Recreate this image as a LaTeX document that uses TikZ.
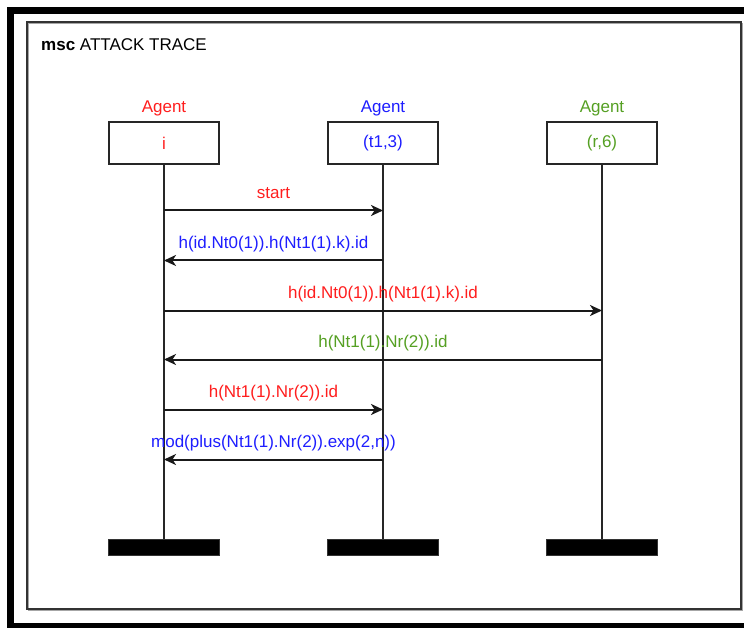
\documentclass[tikz,border=0pt]{standalone}
\usepackage{fontspec}
\setmainfont{Liberation Sans}
\usetikzlibrary{arrows.meta}
\definecolor{mred}{RGB}{255,30,30}
\definecolor{mblue}{RGB}{30,30,255}
\definecolor{mgreen}{RGB}{85,160,35}
\tikzset{
  txt/.style={font=\fontsize{17}{20}\selectfont, inner sep=0pt},
  actorbox/.style={draw=black!85, line width=2pt, minimum width=110pt, minimum height=42pt, inner sep=0pt, font=\fontsize{17}{20}\selectfont},
  endbar/.style={fill=black, draw=black!80, line width=0.6pt, minimum width=111pt, minimum height=16pt, inner sep=0pt},
  lifeline/.style={draw=black!85, line width=2pt},
  msg/.style={draw=black!90, line width=2pt, -{Stealth[length=12pt,width=11pt,inset=3.5pt]}},
  lbl/.style={txt, midway, anchor=base, yshift=12pt}
}
\begin{document}
\begin{tikzpicture}[x=1pt,y=-1pt]
\useasboundingbox (0,0) rectangle (744,628);
\clip (0,0) rectangle (744,628);
\fill[white] (0,0) rectangle (744,628);
% outer thick frame
\draw[line width=7pt, black] (10.5,10.5) rectangle (770,626.5);
% inner frame with shadow
\draw[line width=1.6pt, black!35] (28.5,23.5) rectangle (742.5,610.5);
\draw[line width=1.6pt, black!80] (27,22) rectangle (741,609);
% title
\node[txt, anchor=base west] (title) at (41,51) {\textbf{msc} ATTACK TRACE};
% actors
\node[txt, anchor=base, text=mred] (ai) at (164,112.5) {Agent};
\node[txt, anchor=base, text=mblue] (at) at (383,112.5) {Agent};
\node[txt, anchor=base, text=mgreen] (ar) at (602,112.5) {Agent};
\node[actorbox, text=mred] (i) at (164,143) {i};
\node[actorbox, text=mblue] (t) at (383,143) {(t1,3)};
\node[actorbox, text=mgreen] (r) at (602,143) {(r,6)};
\node[endbar] (ei) at (164,547.5) {};
\node[endbar] (et) at (383,547.5) {};
\node[endbar] (er) at (602,547.5) {};
\draw[lifeline] (i.south) -- (ei.north);
\draw[lifeline] (t.south) -- (et.north);
\draw[lifeline] (r.south) -- (er.north);
% messages
\draw[msg] (i.south |- 0,210.5) -- (t.south |- 0,210.5) node[lbl, text=mred] {start};
\draw[msg] (t.south |- 0,260.5) -- (i.south |- 0,260.5) node[lbl, text=mblue] {h(id.Nt0(1)).h(Nt1(1).k).id};
\draw[msg] (i.south |- 0,310.5) -- (r.south |- 0,310.5) node[lbl, text=mred] {h(id.Nt0(1)).h(Nt1(1).k).id};
\draw[msg] (r.south |- 0,359.5) -- (i.south |- 0,359.5) node[lbl, text=mgreen] {h(Nt1(1).Nr(2)).id};
\draw[msg] (i.south |- 0,409.5) -- (t.south |- 0,409.5) node[lbl, text=mred] {h(Nt1(1).Nr(2)).id};
\draw[msg] (t.south |- 0,459.5) -- (i.south |- 0,459.5) node[lbl, text=mblue] {mod(plus(Nt1(1).Nr(2)).exp(2,n))};
\end{tikzpicture}
\end{document}
